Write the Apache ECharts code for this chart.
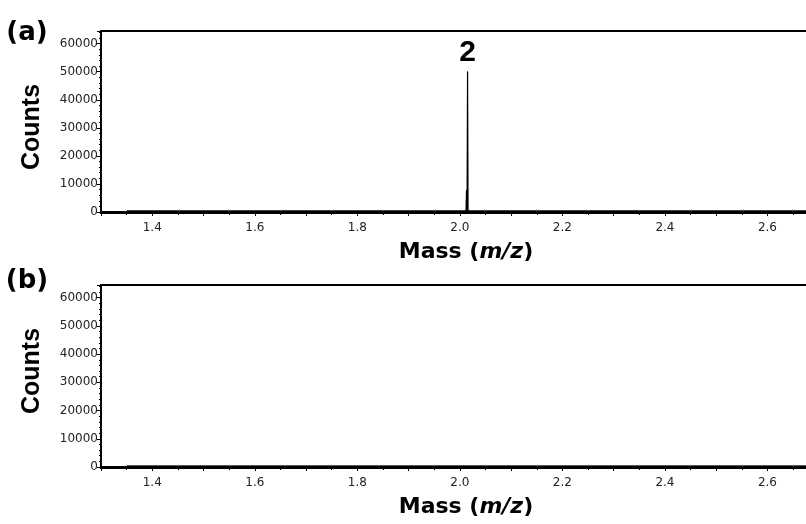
<!DOCTYPE html>
<html>
<head>
<meta charset="utf-8">
<script src="https://cdn.jsdelivr.net/npm/echarts@6/dist/echarts.min.js"></script>
<style>
  html, body { margin: 0; padding: 0; background: #fff; }
  #chart { width: 806px; height: 524px; }
</style>
</head>
<body>
<div id="chart"></div>
<script>
// data
var massA = [1.35, 2.012, 2.013, 2.014, 2.015, 2.016, 2.8];
var countsA = [400, 400, 7800, 400, 50000, 400, 400];
var peakMass = [2.015];
var peakCounts = [50000];
var peakNames = ['2'];
var massB = [1.35, 2.8];
var countsB = [400, 400];
var yTicks = [0, 10000, 20000, 30000, 40000, 50000, 60000];

function pairs(xs, ys) {
  var out = [];
  for (var i = 0; i < xs.length; i++) out.push([xs[i], ys[i]]);
  return out;
}

var font = 'Liberation Sans';
var wide = 'DejaVu Sans';

function xAx(idx) {
  return {
    type: 'value', gridIndex: idx, min: 1.3, max: 2.8, interval: 0.1,
    axisLine: { show: true, onZero: false, lineStyle: { color: '#000', width: 3 } },
    axisTick: { show: true, length: 4, lineStyle: { color: '#000', width: 1 } },
    minorTick: { show: true, splitNumber: 2, length: 3, lineStyle: { color: '#000' } },
    splitLine: { show: false },
    axisLabel: {
      margin: 10, fontSize: 12, color: '#222', fontFamily: wide,
      formatter: function (v) {
        var t = Math.round(v * 10);
        return t % 2 === 0 ? (t / 10).toFixed(1) : '';
      }
    }
  };
}

function yAx(idx) {
  return {
    type: 'value', gridIndex: idx, min: 0, max: 64500, interval: 10000,
    axisLine: { show: true, lineStyle: { color: '#000', width: 2 } },
    axisTick: { show: true, length: 4, lineStyle: { color: '#000' } },
    minorTick: { show: true, splitNumber: 5, length: 2, lineStyle: { color: '#000' } },
    splitLine: { show: false },
    axisLabel: {
      margin: 3, fontSize: 12, color: '#222', fontFamily: wide,
      formatter: function (v) { return yTicks.indexOf(v) >= 0 ? String(v) : ''; }
    }
  };
}

function txt(x, y, s, size, fam, rot) {
  return {
    type: 'text', x: x, y: y, rotation: rot || 0,
    style: { text: s, fontSize: size, fontWeight: 'bold', fontFamily: fam, fill: '#000',
      align: 'center', verticalAlign: 'middle' }
  };
}

function massTitle(y) {
  return {
    type: 'text', x: 466, y: y,
    style: {
      text: '{b|Mass (}{i|m/z}{b|)}', align: 'center', verticalAlign: 'middle',
      rich: {
        b: { fontSize: 22, fontWeight: 'bold', fontFamily: wide, fill: '#000', color: '#000' },
        i: { fontSize: 22, fontWeight: 'bold', fontStyle: 'italic', fontFamily: wide, fill: '#000', color: '#000' }
      }
    }
  };
}

var chart = echarts.init(document.getElementById('chart'));
chart.setOption({
  animation: false,
  backgroundColor: '#fff',
  grid: [
    { left: 101, top: 31, width: 769, height: 181, outerBoundsMode: 'none',
      show: true, borderColor: '#000', borderWidth: 2 },
    { left: 101, top: 285, width: 769, height: 182, outerBoundsMode: 'none',
      show: true, borderColor: '#000', borderWidth: 2 }
  ],
  xAxis: [xAx(0), xAx(1)],
  yAxis: [yAx(0), yAx(1)],
  series: [
    { type: 'line', xAxisIndex: 0, yAxisIndex: 0, data: pairs(massA, countsA),
      symbol: 'none', lineStyle: { color: '#000', width: 1.2 } },
    { type: 'scatter', xAxisIndex: 0, yAxisIndex: 0, data: pairs(peakMass, peakCounts),
      symbolSize: 1, itemStyle: { color: '#000', opacity: 1 },
      label: { show: true, position: 'top', distance: 3, fontSize: 30, fontWeight: 'bold',
        fontFamily: font, color: '#000', opacity: 1,
        formatter: function (p) { return peakNames[p.dataIndex]; } } },
    { type: 'line', xAxisIndex: 1, yAxisIndex: 1, data: pairs(massB, countsB),
      symbol: 'none', lineStyle: { color: '#000', width: 1 } }
  ],
  graphic: [
    txt(27, 33, '(a)', 26, wide),
    txt(27, 281, '(b)', 26, wide),
    txt(32, 127, 'Counts', 25, font, Math.PI / 2),
    txt(32, 371, 'Counts', 25, font, Math.PI / 2),
    massTitle(252),
    massTitle(507)
  ]
});
</script>
</body>
</html>
